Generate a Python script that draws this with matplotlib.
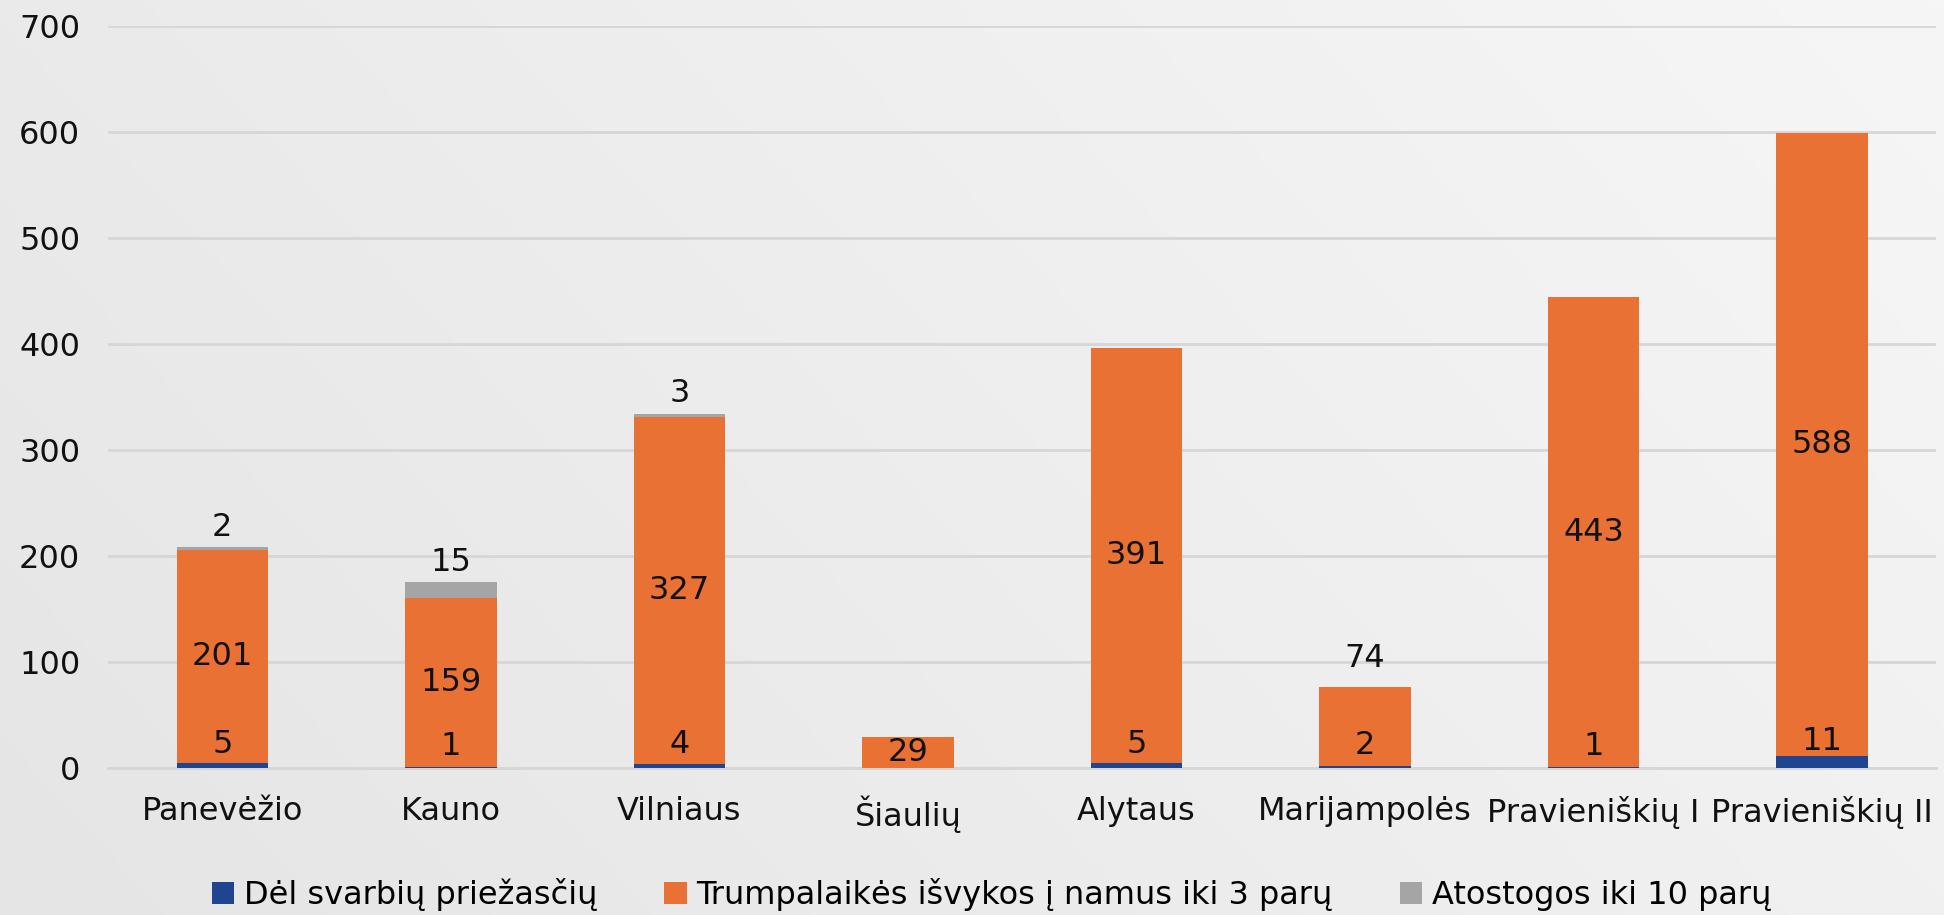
import matplotlib
matplotlib.use("Agg")
import matplotlib.pyplot as plt
import numpy as np
from matplotlib.colors import LinearSegmentedColormap
from matplotlib.transforms import offset_copy

categories = ["Panevėžio", "Kauno", "Vilniaus", "Šiaulių", "Alytaus",
              "Marijampolės", "Pravieniškių I", "Pravieniškių II"]
important = [5, 1, 4, 0, 5, 2, 1, 11]
short_home = [201, 159, 327, 29, 391, 74, 443, 588]
vacation = [2, 15, 3, 0, 0, 0, 0, 0]
series_names = ["Dėl svarbių priežasčių", "Trumpalaikės išvykos į namus iki 3 parų",
                "Atostogos iki 10 parų"]

BLUE = "#1f4591"
ORANGE = "#e97133"
GREY = "#a5a5a5"
FS = 23

plt.rcParams["font.family"] = ["DejaVu Sans"]

fig = plt.figure(figsize=(19.44, 9.15), dpi=100)

# soft diagonal grey gradient background
bg = fig.add_axes([0, 0, 1, 1], zorder=0)
gx, gy = np.meshgrid(np.linspace(0, 1, 400), np.linspace(0, 1, 200))
grad = (gx * 0.7 + (1 - gy) * 0.3)
cmap = LinearSegmentedColormap.from_list("bg", ["#e5e5e5", "#f6f6f6"])
bg.imshow(grad, cmap=cmap, aspect="auto", extent=[0, 1, 0, 1], origin="upper")
bg.axis("off")

ax = fig.add_axes([0.0556, 0.1607, 0.9404, 0.8109], zorder=1)
ax.set_facecolor("none")

x = np.arange(len(categories))
w = 0.4
imp = np.array(important)
sh = np.array(short_home)
va = np.array(vacation)

ax.bar(x, imp, w, color=BLUE, label=series_names[0], zorder=3)
ax.bar(x, sh, w, bottom=imp, color=ORANGE, label=series_names[1], zorder=3)
ax.bar(x, va, w, bottom=imp + sh, color=GREY, label=series_names[2], zorder=3)

ax.set_xlim(-0.5, len(categories) - 0.5)
ax.set_ylim(0, 700)
ax.set_yticks(np.arange(0, 701, 100))
ax.yaxis.grid(True, color="#d6d6d6", linewidth=2, zorder=0)
ax.set_axisbelow(True)
for s in ["top", "right", "left"]:
    ax.spines[s].set_visible(False)
ax.spines["bottom"].set_color("#d6d6d6")
ax.spines["bottom"].set_linewidth(2)
ax.tick_params(axis="both", length=0, labelsize=FS, colors="#111111")
ax.tick_params(axis="x", pad=20)
ax.tick_params(axis="y", pad=20)
ax.set_xticks(x)
ax.set_xticklabels(categories)

up = offset_copy(ax.transData, fig=fig, x=0, y=21, units="dots")
above = offset_copy(ax.transData, fig=fig, x=0, y=20, units="dots")
above_far = offset_copy(ax.transData, fig=fig, x=0, y=29, units="dots")

for i in range(len(categories)):
    if imp[i]:
        ax.text(x[i], imp[i] / 2, str(imp[i]), transform=up, ha="center",
                va="center", fontsize=FS, color="#111111", zorder=5)
    top = imp[i] + sh[i] + va[i]
    if sh[i]:
        if categories[i] == "Marijampolės":
            ax.text(x[i], top, str(sh[i]), transform=above_far, ha="center",
                    va="center", fontsize=FS, color="#111111", zorder=5)
        else:
            ax.text(x[i], imp[i] + sh[i] / 2, str(sh[i]), ha="center", va="center",
                    fontsize=FS, color="#111111", zorder=5)
    if va[i]:
        ax.text(x[i], top, str(va[i]), transform=above, ha="center",
                va="center", fontsize=FS, color="#111111", zorder=5)

fig.legend(loc="center", bbox_to_anchor=(0.51, 0.022), ncol=3, frameon=False,
           fontsize=FS, handlelength=0.7, handleheight=0.7, handletextpad=0.3,
           columnspacing=2.1)

fig.savefig("out.png", dpi=100)
